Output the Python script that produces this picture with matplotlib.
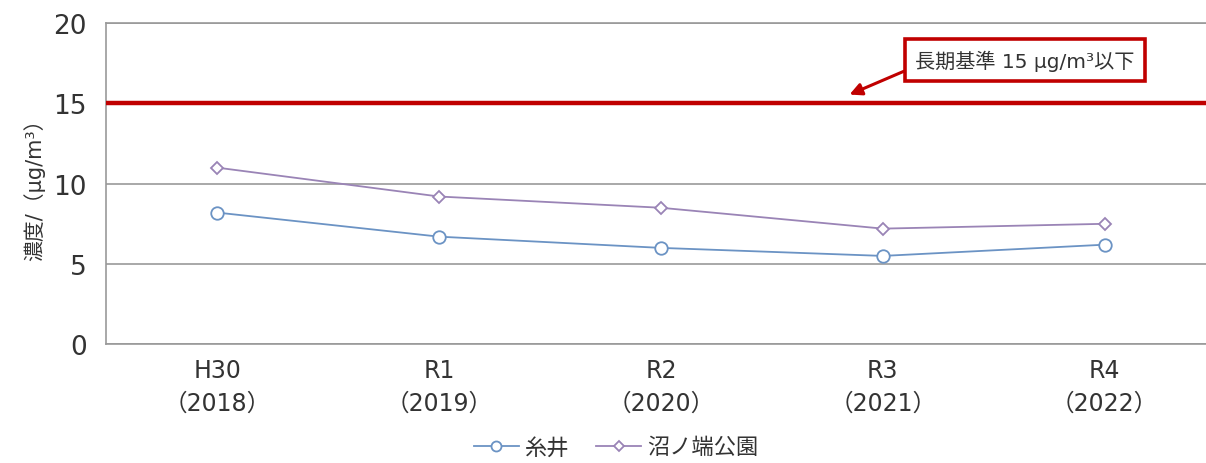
import matplotlib.pyplot as plt

plt.rcParams['font.family'] = ['DejaVu Sans', 'Noto Sans CJK JP']

# =========================
# DATA
# =========================
years = ["H30\n（2018）", "R1\n（2019）", "R2\n（2020）", "R3\n（2021）", "R4\n（2022）"]
itoi = [8.2, 6.7, 6.0, 5.5, 6.2]
numanohata = [11.0, 9.2, 8.5, 7.2, 7.5]
standard = 15

# =========================
# PLOT
# =========================
fig = plt.figure(figsize=(12.06, 4.64), dpi=100)
ax = fig.add_axes([0.088, 0.256, 0.92, 0.692])

x = list(range(len(years)))
ax.plot(x, itoi, color='#6b93c4', lw=1.3, marker='o', ms=9,
        mfc='white', mec='#6b93c4', mew=1.3, label='糸井', zorder=3)
ax.plot(x, numanohata, color='#9a84b6', lw=1.3, marker='D', ms=6.5,
        mfc='white', mec='#9a84b6', mew=1.3, label='沼ノ端公園', zorder=3)

ax.axhline(standard, color='#c00000', lw=3.2, zorder=4)

ax.set_xlim(-0.5, len(years) - 0.5)
ax.set_ylim(0, 20)
ax.set_yticks([0, 5, 10, 15, 20])
ax.set_xticks(x)
ax.set_xticklabels(years, fontsize=17, color='#333333', linespacing=1.45)
ax.tick_params(axis='y', labelsize=19, colors='#333333', length=0, pad=14)
ax.tick_params(axis='x', length=0, pad=10)
ax.yaxis.grid(True, color='#999999', lw=1.2)
ax.set_axisbelow(True)
for s in ['left', 'bottom', 'top']:
    ax.spines[s].set_color('#999999')
    ax.spines[s].set_linewidth(1.2)
ax.spines['right'].set_visible(False)

ax.set_ylabel('濃度/（μg/m³）', fontsize=15, color='#333333', labelpad=6)

# annotation box for the long-term standard
ax.annotate('長期基準 15 μg/m³以下', xy=(2.85, 15.55), xytext=(3.64, 17.7),
            fontsize=14.5, color='#333333', ha='center', va='center',
            bbox=dict(boxstyle='square,pad=0.5', fc='white', ec='#c00000', lw=2.6),
            arrowprops=dict(arrowstyle='-|>', color='#c00000', lw=2.2,
                            mutation_scale=18, shrinkA=0, shrinkB=0,
                            relpos=(0, 0.2)),
            zorder=5)

ax.legend(loc='center', bbox_to_anchor=(0.46, -0.32), ncol=2,
          frameon=False, fontsize=16, handlelength=2.0, columnspacing=1.2,
          handletextpad=0.3, labelcolor='#333333', markerscale=0.8)

plt.savefig('out.png', dpi=100)
plt.close()
